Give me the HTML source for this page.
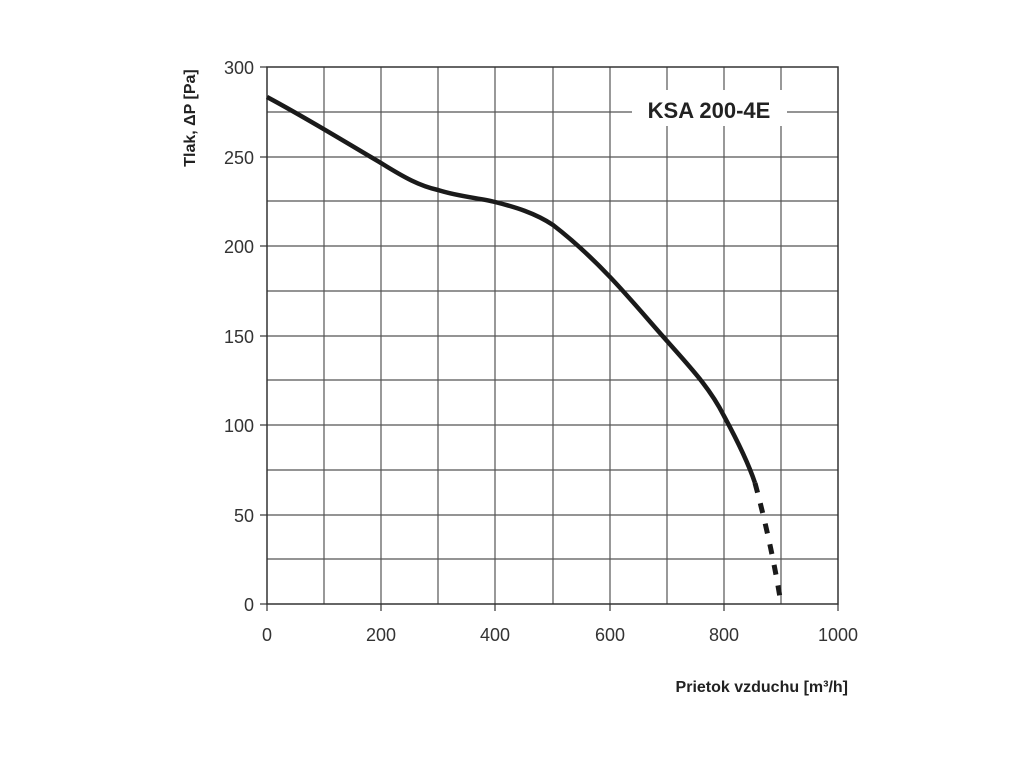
<!DOCTYPE html>
<html><head><style>body{margin:0;background:#fff}</style></head><body>
<svg width="1024" height="768" xmlns="http://www.w3.org/2000/svg" font-family="Liberation Sans, sans-serif">
<rect width="1024" height="768" fill="#fff"/>
<g stroke="#555" stroke-width="1.2">
<line x1="324" y1="67" x2="324" y2="604"/><line x1="381" y1="67" x2="381" y2="604"/><line x1="438" y1="67" x2="438" y2="604"/><line x1="495" y1="67" x2="495" y2="604"/><line x1="553" y1="67" x2="553" y2="604"/><line x1="610" y1="67" x2="610" y2="604"/><line x1="667" y1="67" x2="667" y2="604"/><line x1="724" y1="67" x2="724" y2="604"/><line x1="781" y1="67" x2="781" y2="604"/>
<line x1="267" y1="112" x2="838" y2="112"/><line x1="267" y1="157" x2="838" y2="157"/><line x1="267" y1="201" x2="838" y2="201"/><line x1="267" y1="246" x2="838" y2="246"/><line x1="267" y1="291" x2="838" y2="291"/><line x1="267" y1="336" x2="838" y2="336"/><line x1="267" y1="380" x2="838" y2="380"/><line x1="267" y1="425" x2="838" y2="425"/><line x1="267" y1="470" x2="838" y2="470"/><line x1="267" y1="515" x2="838" y2="515"/><line x1="267" y1="559" x2="838" y2="559"/>
</g>
<rect x="267" y="67" width="571" height="537" fill="none" stroke="#333" stroke-width="1.5"/>
<g stroke="#333" stroke-width="1.2">
<line x1="260" y1="67" x2="267" y2="67"/><line x1="260" y1="157" x2="267" y2="157"/><line x1="260" y1="246" x2="267" y2="246"/><line x1="260" y1="336" x2="267" y2="336"/><line x1="260" y1="425" x2="267" y2="425"/><line x1="260" y1="515" x2="267" y2="515"/><line x1="260" y1="604" x2="267" y2="604"/>
<line x1="267" y1="604" x2="267" y2="611"/><line x1="381" y1="604" x2="381" y2="611"/><line x1="495" y1="604" x2="495" y2="611"/><line x1="610" y1="604" x2="610" y2="611"/><line x1="724" y1="604" x2="724" y2="611"/><line x1="838" y1="604" x2="838" y2="611"/>
</g>
<rect x="632" y="90" width="155" height="36" fill="#fff"/>
<text x="709" y="118" font-size="22" font-weight="bold" text-anchor="middle" fill="#222">KSA 200-4E</text>
<path d="M267,97 C310,120 350,145 381,163 C405,178 420,186 438,190 C460,197 480,198 495,202 C515,207 535,213 553,225 C575,242 592,258 610,277 C630,298 650,322 667,341 C690,367 710,388 724,416 C737,440 748,462 755,483" fill="none" stroke="#1a1a1a" stroke-width="4.5"/>
<path d="M755,483 C765,520 775,565 781,604" fill="none" stroke="#1a1a1a" stroke-width="5" stroke-dasharray="10,11"/>
<g font-size="18" fill="#333" text-anchor="end">
<text x="254" y="74">300</text><text x="254" y="164">250</text><text x="254" y="253">200</text><text x="254" y="343">150</text><text x="254" y="432">100</text><text x="254" y="522">50</text><text x="254" y="611">0</text>
</g>
<g font-size="18" fill="#333" text-anchor="middle">
<text x="267" y="641">0</text><text x="381" y="641">200</text><text x="495" y="641">400</text><text x="610" y="641">600</text><text x="724" y="641">800</text><text x="838" y="641">1000</text>
</g>
<text x="848" y="692" font-size="16" font-weight="bold" text-anchor="end" fill="#222">Prietok vzduchu  [m³/h]</text>
<text transform="translate(195,118) rotate(-90)" font-size="16" font-weight="bold" text-anchor="middle" fill="#222">Tlak, ΔP [Pa]</text>
</svg>
</body></html>
